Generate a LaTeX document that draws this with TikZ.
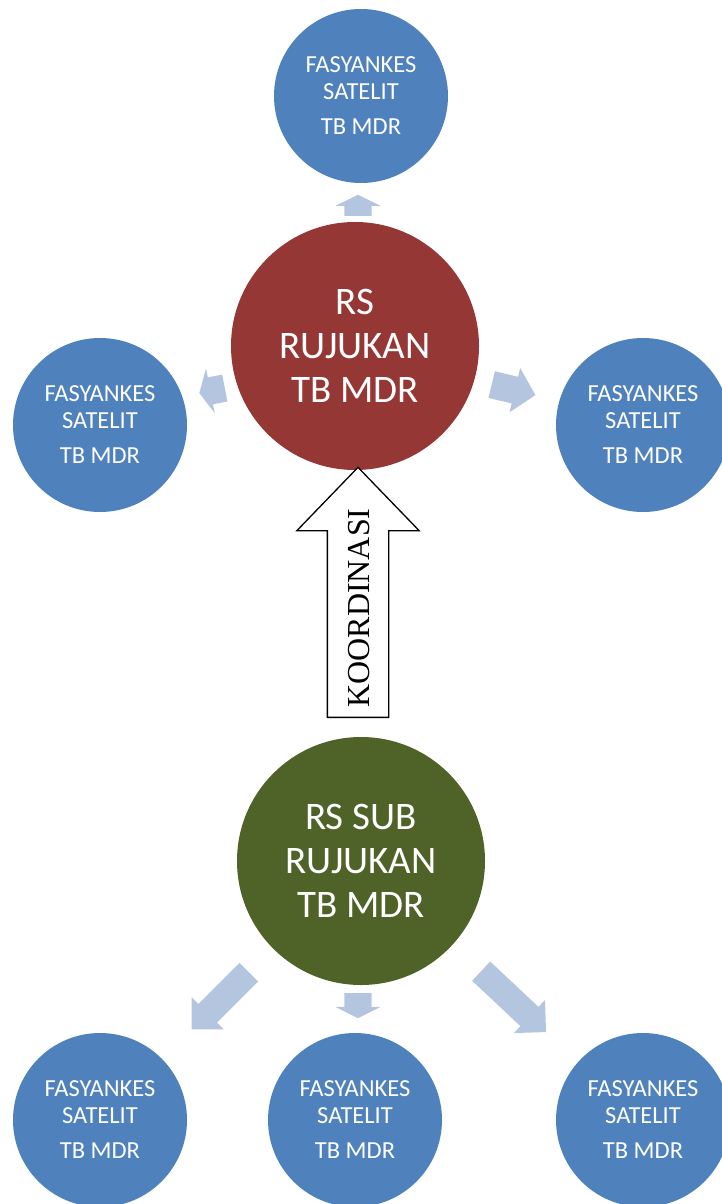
\documentclass[tikz,border=0pt]{standalone}
\usepackage{fontspec}
\setmainfont{Carlito}
\newfontfamily\koordfont{Liberation Serif}
\usetikzlibrary{shapes.arrows}

\definecolor{satbiru}{RGB}{79,129,189}
\definecolor{rsmerah}{RGB}{149,55,53}
\definecolor{rshijau}{RGB}{79,98,40}
\definecolor{panahbiru}{RGB}{180,197,224}

\begin{document}
\begin{tikzpicture}[x=1pt,y=-1pt,
    satelit/.style={circle, fill=satbiru, minimum size=174pt, inner sep=0pt,
        text=white, align=center, font=\fontsize{24.5}{27}\selectfont},
    rumahsakit/.style={circle, minimum size=248pt, inner sep=0pt,
        text=white, align=center, font=\fontsize{39}{44}\selectfont},
    panah/.style={single arrow, fill=panahbiru, inner sep=0pt, anchor=tail,
        text height=13.5pt, text depth=13.5pt, text width=0pt,
        single arrow head extend=9pt, minimum width=45pt}]

    % ukuran gambar
    \useasboundingbox (0,0) rectangle (722,1204);
    \clip (0,0) rectangle (722,1204);

    % rumah sakit rujukan dan satelitnya
    \node[rumahsakit, fill=rsmerah] (rsr) at (355,346) {RS\\RUJUKAN\\TB MDR};
    \node[satelit] (satatas) at (361,96) {FASYANKES\\SATELIT\\[8pt]TB MDR};
    \node[satelit] (satkiri) at (100,425) {FASYANKES\\SATELIT\\[8pt]TB MDR};
    \node[satelit] (satkanan) at (643,425) {FASYANKES\\SATELIT\\[8pt]TB MDR};

    % rumah sakit sub rujukan dan satelitnya
    \node[rumahsakit, fill=rshijau] (rss) at (361,861) {RS SUB\\RUJUKAN\\TB MDR};
    \node[satelit] (satbawah1) at (100,1120) {FASYANKES\\SATELIT\\[8pt]TB MDR};
    \node[satelit] (satbawah2) at (355,1120) {FASYANKES\\SATELIT\\[8pt]TB MDR};
    \node[satelit] (satbawah3) at (643,1120) {FASYANKES\\SATELIT\\[8pt]TB MDR};

    % panah biru muda
    \node[panah, rotate=90, minimum height=21pt, single arrow tip angle=128] (p1) at (358,216) {};
    \node[panah, rotate=191, minimum height=26pt, single arrow tip angle=127] (p2) at (225,388) {};
    \node[panah, rotate=-13.6, minimum height=45pt, single arrow tip angle=94] (p3) at (491.5,384.5) {};
    \node[panah, rotate=225, minimum height=81pt, single arrow tip angle=90,
        text height=13pt, text depth=13pt, single arrow head extend=9.5pt] (p4) at (249,972) {};
    \node[panah, rotate=-90, minimum height=25pt, single arrow tip angle=127] (p5) at (358,993) {};
    \node[panah, rotate=-43.2, minimum height=89pt, single arrow tip angle=90,
        text height=13pt, text depth=13pt, single arrow head extend=9.5pt] (p6) at (481,971) {};

    % panah koordinasi
    \node[single arrow, draw=black, line width=1.3pt, fill=white, inner sep=0pt,
        anchor=tail, rotate=90, text height=30pt, text depth=30pt, text width=0pt,
        single arrow head extend=30.5pt, minimum width=121pt, minimum height=250pt,
        single arrow tip angle=88] (koord) at (358,718) {};
    \node[rotate=90, font=\koordfont\fontsize{32}{32}\selectfont] (koordteks) at (359,608) {KOORDINASI};
\end{tikzpicture}
\end{document}
